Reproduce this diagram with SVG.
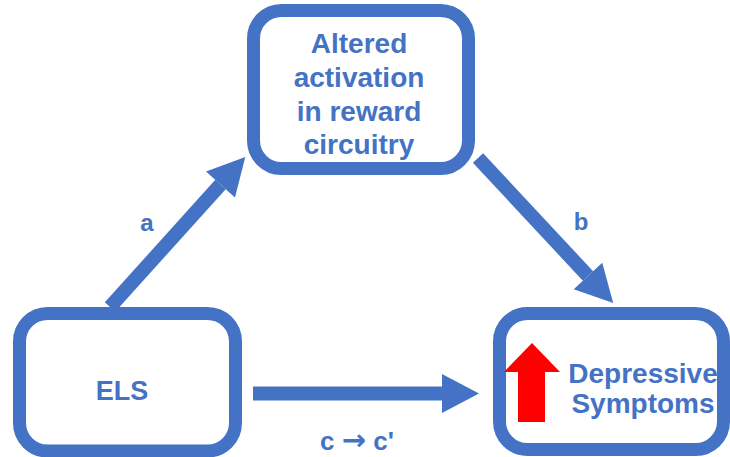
<svg xmlns="http://www.w3.org/2000/svg" width="730" height="457" viewBox="0 0 730 457">
<style>
.box{fill:#fff;stroke:#4472C4;stroke-width:13}
.t{font-family:"Liberation Sans",Arial,sans-serif;font-weight:bold;fill:#4472C4;text-anchor:middle}
.conn{stroke:#4472C4;stroke-width:14;fill:none}
</style>
<defs>
<marker id="ah" markerUnits="userSpaceOnUse" markerWidth="37" markerHeight="39" refX="0" refY="19.5" orient="auto" overflow="visible">
<path d="M0,0 L37,19.5 L0,39 z" fill="#4472C4"/>
</marker>
</defs>
<rect width="730" height="457" fill="#fff"/>
<g id="connectors">
<line class="conn" x1="110" y1="307" x2="220.5" y2="184.5" marker-end="url(#ah)"/>
<line class="conn" x1="478" y1="158" x2="588" y2="276" marker-end="url(#ah)"/>
<line class="conn" x1="253" y1="393.5" x2="442" y2="393.5" stroke-width="13" marker-end="url(#ah)"/>
<text class="t" x="147" y="231" font-size="24">a</text>
<text class="t" x="581" y="230" font-size="24">b</text>
<text class="t" x="357" y="450" font-size="26">c <tspan font-family="'DejaVu Sans',sans-serif" font-size="29">→</tspan> c'</text>
</g>
<g id="node-reward">
<rect class="box" x="253.5" y="10.5" width="215" height="158" rx="28"/>
<text class="t" x="359" y="53" font-size="28">Altered</text>
<text class="t" x="359" y="87" font-size="28">activation</text>
<text class="t" x="359" y="121" font-size="28">in reward</text>
<text class="t" x="359" y="154" font-size="28">circuitry</text>
</g>
<g id="node-els">
<rect class="box" x="19.5" y="313.5" width="216" height="137.5" rx="28"/>
<text class="t" x="122" y="400" font-size="27">ELS</text>
</g>
<g id="node-depressive">
<rect class="box" x="499.5" y="313.5" width="224" height="136" rx="28"/>
<path d="M532,343 L560,372 L545,372 L545,422 L518,422 L518,372 L504,372 z" fill="#FF0000"/>
<text class="t" x="643" y="383" font-size="28">Depressive</text>
<text class="t" x="643" y="413" font-size="28">Symptoms</text>
</g>
</svg>
